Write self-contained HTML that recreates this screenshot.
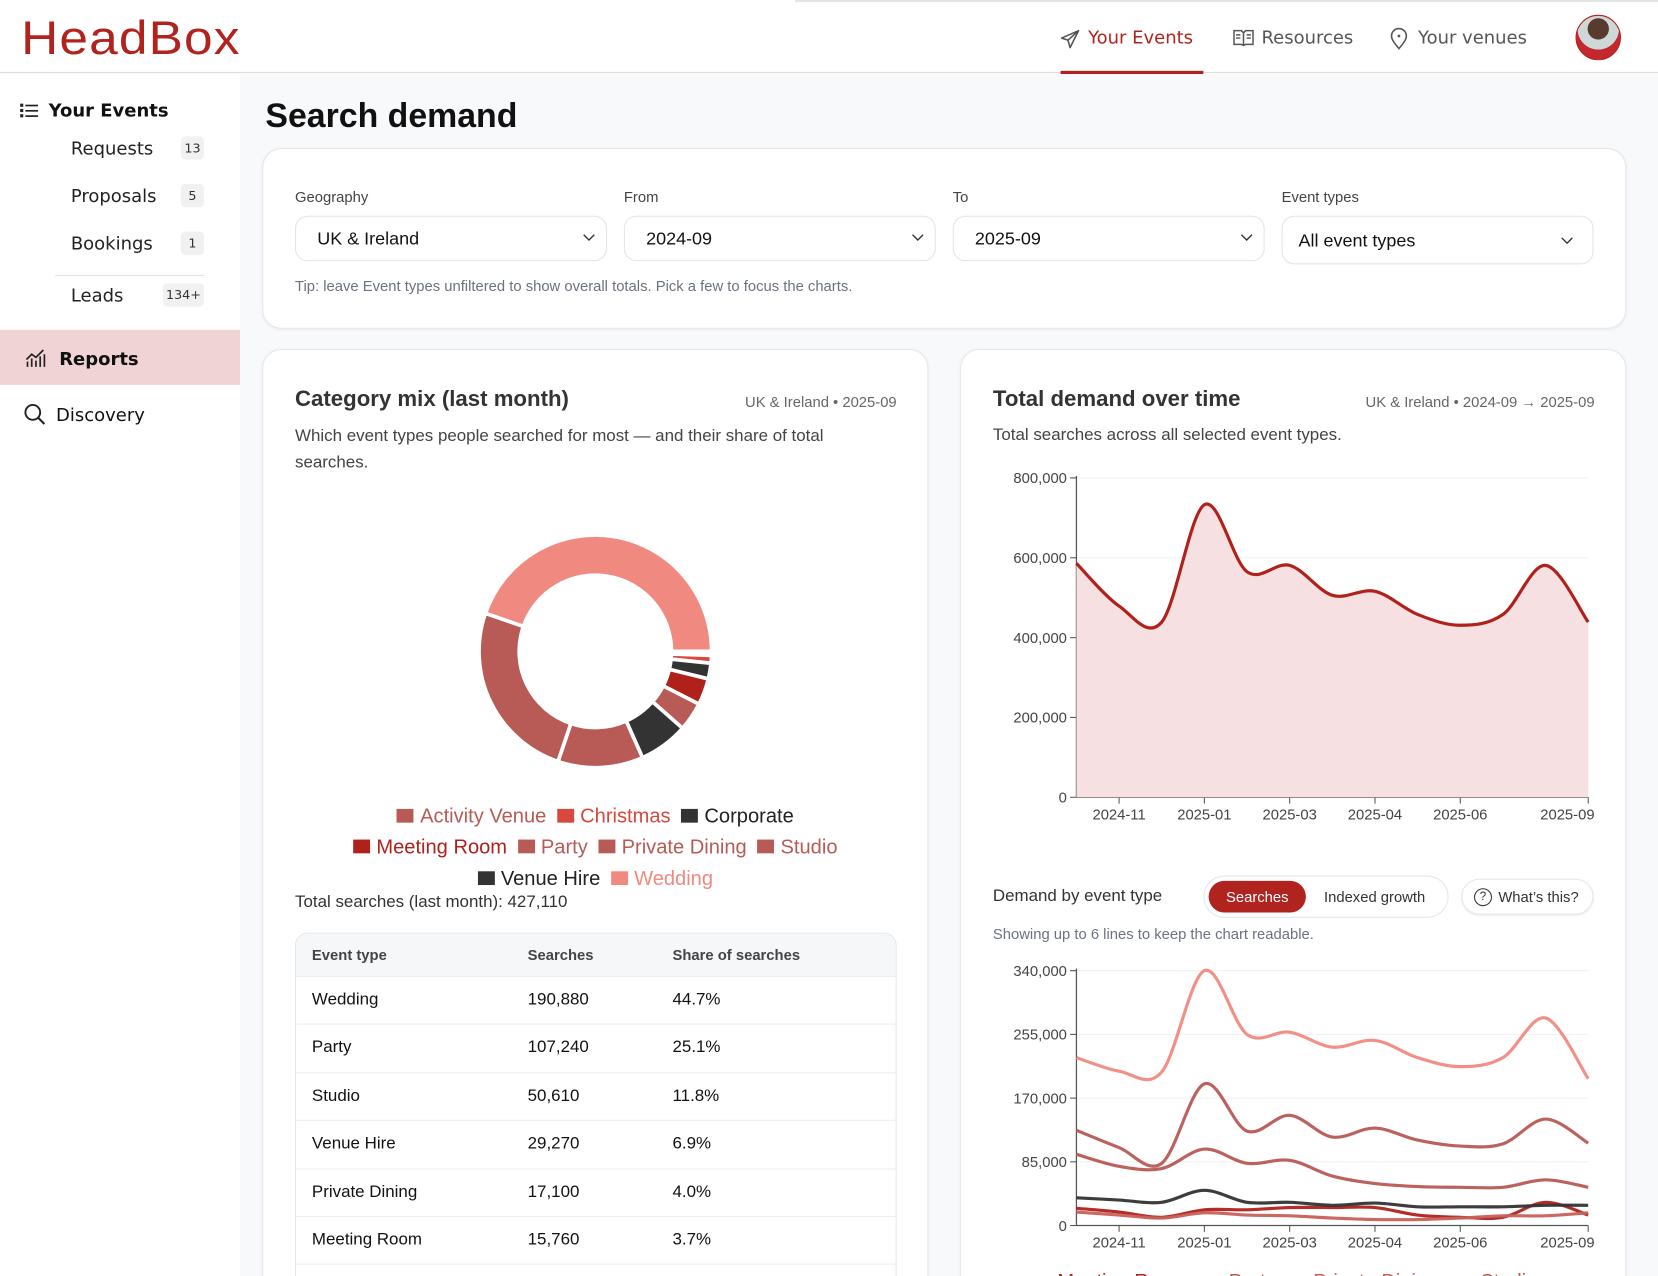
<!DOCTYPE html>
<html><head><meta charset="utf-8">
<style>
*{box-sizing:border-box;margin:0;padding:0}
html,body{width:1658px;height:1276px;overflow:hidden;background:#f8f9fb}
#stage{position:absolute;left:0;top:0;width:1568px;height:1207px;transform:scale(1.05740);transform-origin:0 0;font-family:"Liberation Sans",sans-serif;color:#222;background:#f8f9fb;overflow:hidden}
.abs{position:absolute}
.side{font-family:"DejaVu Sans","Liberation Sans",sans-serif}
.badge{position:absolute;height:22px;background:#f1f1f1;border-radius:4px;font-size:12px;color:#333;text-align:center;line-height:22px}
.card{position:absolute;background:#fff;border:1.5px solid #e6e7eb;border-radius:18px;box-shadow:0 1px 3px rgba(0,0,0,.06)}
.lbl{position:absolute;font-size:14px;color:#444}
.sel{position:absolute;height:43px;border:1px solid #e3e4e8;border-radius:12px;background:#fff;font-size:17px;color:#111;padding-left:20px;line-height:41px}
.sel svg{position:absolute;right:10px;top:16px}
.row{position:absolute;left:0;width:568px;height:45px;border-top:1px solid #eceef1;font-size:16px;color:#111}
.row span{position:absolute;top:13px}
</style></head><body>
<div id="stage">
<!-- header -->
<div class="abs" style="left:0;top:0;width:1568px;height:69px;background:#fff;border-bottom:1px solid #dcdcdc"></div>
<div class="abs" style="left:752px;top:0;width:816px;height:2px;background:#e4e4e4"></div>
<div class="abs" style="left:20px;top:10px;font-size:45px;color:#b0231e;font-family:'Liberation Sans',sans-serif;letter-spacing:1px;transform:scaleX(1.08);transform-origin:0 0">HeadBox</div>
<svg class="abs" style="left:1002px;top:27px" width="20" height="20" viewBox="0 0 20 20"><path d="M18 2 L2 9 L8 11 L10 18 Z M8 11 L18 2" fill="none" stroke="#555" stroke-width="1.5" stroke-linejoin="round"/></svg>
<div class="abs side" style="left:1029px;top:26px;font-size:17px;color:#b0231e">Your Events</div>
<div class="abs" style="left:1003px;top:67px;width:135px;height:3px;background:#b0231e"></div>
<svg class="abs" style="left:1166px;top:28px" width="20" height="16" viewBox="0 0 20 16"><path d="M1 1h7l2 2 2-2h7v13h-7l-2 1-2-1H1z M10 3v12 M3 5h4M3 8h4M13 5h4M13 8h4" fill="none" stroke="#555" stroke-width="1.4"/></svg>
<div class="abs side" style="left:1193px;top:26px;font-size:17px;color:#555">Resources</div>
<svg class="abs" style="left:1314px;top:26px" width="18" height="22" viewBox="0 0 18 22"><path d="M9 20 C4 14 2 11 2 8 A7 7 0 0 1 16 8 C16 11 14 14 9 20Z" fill="none" stroke="#555" stroke-width="1.5"/><circle cx="9" cy="8" r="1.3" fill="#555"/></svg>
<div class="abs side" style="left:1341px;top:26px;font-size:17px;color:#555">Your venues</div>
<div class="abs" style="left:1490px;top:14px;width:43px;height:43px;border-radius:50%;background:radial-gradient(circle at 50% 30%,#5a3a2e 0 28%,#cfd8d8 29% 55%,#c4282c 56%);border:1.5px solid #b0231e"></div>

<!-- sidebar -->
<div class="abs" style="left:0;top:70px;width:227px;height:1137px;background:#fff"></div>
<svg class="abs" style="left:19px;top:97px" width="18" height="15"><g fill="#222"><rect x="0" y="1" width="3" height="3"/><rect x="0" y="6" width="3" height="3"/><rect x="0" y="11" width="3" height="3"/><rect x="5" y="2" width="12" height="1.6"/><rect x="5" y="7" width="12" height="1.6"/><rect x="5" y="12" width="12" height="1.6"/></g></svg>
<div class="abs side" style="left:46px;top:95px;font-size:17px;font-weight:bold;color:#111">Your Events</div>
<div class="abs side" style="left:67px;top:131px;font-size:17px;color:#222">Requests</div>
<div class="badge side" style="left:171px;top:129px;width:22px">13</div>
<div class="abs side" style="left:67px;top:176px;font-size:17px;color:#222">Proposals</div>
<div class="badge side" style="left:171px;top:174px;width:22px">5</div>
<div class="abs side" style="left:67px;top:221px;font-size:17px;color:#222">Bookings</div>
<div class="badge side" style="left:171px;top:219px;width:22px">1</div>
<div class="abs" style="left:52px;top:260px;width:141px;height:1px;background:#e3e3e3"></div>
<div class="abs side" style="left:67px;top:270px;font-size:17px;color:#222">Leads</div>
<div class="badge side" style="left:154px;top:268px;width:39px">134+</div>
<div class="abs" style="left:0;top:312px;width:227px;height:52px;background:#efd3d5"></div>
<svg class="abs" style="left:24px;top:330px" width="20" height="18"><path d="M2 17V12M6 17V9M10 17V11M14 17V7M18 17V5M1 10 6 5 10 8 17 1" stroke="#222" stroke-width="1.6" fill="none"/></svg>
<div class="abs side" style="left:56px;top:330px;font-size:17px;font-weight:bold;color:#111">Reports</div>
<svg class="abs" style="left:22px;top:381px" width="22" height="22"><circle cx="9" cy="9" r="7" fill="none" stroke="#222" stroke-width="1.8"/><path d="M14 14 L20 20" stroke="#222" stroke-width="2"/></svg>
<div class="abs side" style="left:53px;top:383px;font-size:17px;color:#111">Discovery</div>

<!-- title -->
<div class="abs" style="left:251px;top:91px;font-size:32px;font-weight:bold;color:#111;font-family:'Liberation Sans',sans-serif">Search demand</div>

<!-- filters -->
<div class="card" style="left:248px;top:140px;width:1290px;height:171px"></div>
<div class="lbl" style="left:279px;top:178px">Geography</div>
<div class="lbl" style="left:590px;top:178px">From</div>
<div class="lbl" style="left:901px;top:178px">To</div>
<div class="lbl" style="left:1212px;top:178px">Event types</div>
<div class="sel" style="left:279px;top:204px;width:295px">UK &amp; Ireland<svg width="12" height="8"><path d="M1 1l5 5 5-5" fill="none" stroke="#333" stroke-width="1.3"/></svg></div>
<div class="sel" style="left:590px;top:204px;width:295px">2024-09<svg width="12" height="8"><path d="M1 1l5 5 5-5" fill="none" stroke="#333" stroke-width="1.3"/></svg></div>
<div class="sel" style="left:901px;top:204px;width:295px">2025-09<svg width="12" height="8"><path d="M1 1l5 5 5-5" fill="none" stroke="#333" stroke-width="1.3"/></svg></div>
<div class="sel" style="left:1212px;top:204px;width:295px;height:46px;padding-left:15px;line-height:45px">All event types<svg width="12" height="8" style="right:18px;top:19px"><path d="M1 1l5 5 5-5" fill="none" stroke="#333" stroke-width="1.3"/></svg></div>
<div class="abs" style="left:279px;top:262px;font-size:14px;color:#6b7280">Tip: leave Event types unfiltered to show overall totals. Pick a few to focus the charts.</div>

<!-- left card -->
<div class="card" style="left:248px;top:330px;width:630px;height:920px"></div>
<div class="abs" style="left:279px;top:366px;font-size:21px;font-weight:bold;color:#333">Category mix (last month)</div>
<div class="abs" style="left:600px;width:248px;text-align:right;top:372px;font-size:14px;color:#666">UK &amp; Ireland • 2025-09</div>
<div class="abs" style="left:279px;top:401px;width:560px;font-size:16px;line-height:24.5px;color:#444">Which event types people searched for most — and their share of total searches.</div>
<svg id="donut" class="abs" style="left:440px;top:490px" width="250" height="250"></svg>
<div class="abs" style="left:280px;top:758px;width:566px;text-align:center;font-size:19px;line-height:29.4px" id="legend"></div>
<div class="abs" style="left:279px;top:845px;font-size:16px;color:#333">Total searches (last month): 427,110</div>
<div class="abs" style="left:279px;top:882px;width:569px;height:340px;border:1px solid #e5e6ea;border-radius:12px;overflow:hidden;background:#fff" id="table">
 <div class="abs" style="left:0;top:0;width:569px;height:40px;background:#f6f7f9;font-size:14px;font-weight:bold;color:#444">
  <span class="abs" style="left:15px;top:12px">Event type</span><span class="abs" style="left:219px;top:12px">Searches</span><span class="abs" style="left:356px;top:12px">Share of searches</span></div>
</div>

<!-- right card -->
<div class="card" style="left:908px;top:330px;width:630px;height:920px"></div>
<div class="abs" style="left:939px;top:366px;font-size:21px;font-weight:bold;color:#333">Total demand over time</div>
<div class="abs" style="left:1200px;width:308px;text-align:right;top:372px;font-size:14px;color:#666">UK &amp; Ireland • 2024-09 → 2025-09</div>
<div class="abs" style="left:939px;top:403px;font-size:16px;color:#444">Total searches across all selected event types.</div>
<svg id="chart1" class="abs" style="left:908px;top:430px" width="630" height="360"></svg>
<div class="abs" style="left:939px;top:839px;font-size:16px;color:#333">Demand by event type</div>
<div class="abs" style="left:1138px;top:828px;width:232px;height:40px;border:1px solid #e5e6ea;border-radius:20px;background:#fff"></div>
<div class="abs" style="left:1143px;top:833px;width:92px;height:30px;border-radius:15px;background:#b0231e;color:#fff;font-size:14px;text-align:center;line-height:30px">Searches</div>
<div class="abs" style="left:1240px;top:833px;width:120px;height:30px;color:#333;font-size:14px;text-align:center;line-height:30px">Indexed growth</div>
<div class="abs" style="left:1382px;top:831px;width:125px;height:34px;border:1px solid #e5e6ea;border-radius:17px;background:#fff;box-shadow:0 1px 2px rgba(0,0,0,.08);font-size:14px;color:#333;line-height:32px;padding-left:34px">What’s this?
 <span class="abs" style="left:11px;top:8px;width:17px;height:17px;border:1.4px solid #333;border-radius:50%;font-size:11px;line-height:15px;text-align:center;padding:0">?</span></div>
<div class="abs" style="left:939px;top:875px;font-size:14px;color:#6b7280">Showing up to 6 lines to keep the chart readable.</div>
<svg id="chart2" class="abs" style="left:908px;top:900px" width="630" height="340"></svg>
</div>

<script>
const NS='http://www.w3.org/2000/svg';
function mk(parent,tag,attrs){const e=document.createElementNS(NS,tag);for(const k in attrs)e.setAttribute(k,attrs[k]);parent.appendChild(e);return e;}

// ---------- donut data ----------
const donutCats=['Activity Venue','Christmas','Corporate','Meeting Room','Private Dining','Venue Hire','Studio','Party','Wedding'];
const donutVals=[2350,4600,9300,15760,17100,29270,50610,107240,190880];
const donutColors=['#b85a55','#d9473d','#333333','#b0211c','#b85a55','#333333','#b85a55','#b85a55','#f08a80'];
const legendOrder=['Activity Venue','Christmas','Corporate','Meeting Room','Party','Private Dining','Studio','Venue Hire','Wedding'];
const legendColors=['#b85a55','#d9473d','#333333','#b0211c','#b85a55','#b85a55','#b85a55','#333333','#f08a80'];
// ---------- table data ----------
const tableTypes=['Wedding','Party','Studio','Venue Hire','Private Dining','Meeting Room','Corporate'];
const tableSearches=[190880,107240,50610,29270,17100,15760,9300];
const tableShares=['44.7%','25.1%','11.8%','6.9%','4.0%','3.7%','2.2%'];
// ---------- time series ----------
const months=['2024-09','2024-11','2024-12','2025-01','2025-02','2025-03','2025-03b','2025-04','2025-05','2025-06','2025-07','2025-08','2025-09'];
const tickIdx=[1,3,5,7,9,12];
const tickLabels=['2024-11','2025-01','2025-03','2025-04','2025-06','2025-09'];
const totalVals=[586000,479000,439000,733000,565000,581000,506000,516000,458000,431000,458000,581000,439000];
const y1Ticks=[0,200000,400000,600000,800000];
const y2Ticks=[0,85000,170000,255000,340000];
const seriesNames=['Meeting Room','Party','Private Dining','Studio','Wedding','Venue Hire'];
const seriesColors=['#b0211c','#b85a55','#c9605a','#b85a55','#f08a80','#333333'];
const sMeeting=[23000,18000,11000,21000,21000,24000,24000,24000,14000,11000,11000,31000,14000];
const sParty=[127000,104000,83000,189000,126000,147000,118000,130000,114000,106000,109000,142000,110000];
const sPrivate=[18000,14000,10000,17000,14000,13000,10000,8000,8000,10000,13000,13000,17000];
const sStudio=[95000,79000,76000,102000,83000,87000,66000,56000,52000,51000,51000,61000,51000];
const sWedding=[224000,206000,205000,340000,255000,258000,238000,247000,224000,212000,224000,277000,196000];
const sVenue=[37000,34000,31000,47000,31000,31000,27000,30000,25000,25000,25000,27000,27000];
const seriesVals=[sMeeting,sParty,sPrivate,sStudio,sWedding,sVenue];

function fmt(n){return n.toLocaleString('en-US');}

// donut
(function(){
 const svg=document.getElementById('donut');const cx=123,cy=126,R=110,r=72;
 const total=donutVals.reduce((a,b)=>a+b,0);let a=Math.PI/2;
 donutVals.forEach((v,i)=>{
  const a2=a+v/total*Math.PI*2;
  const p=(ang,rad)=>[cx+rad*Math.sin(ang),cy-rad*Math.cos(ang)];
  const [x1,y1]=p(a,R),[x2,y2]=p(a2,R),[x3,y3]=p(a2,r),[x4,y4]=p(a,r);const lg=(a2-a)>Math.PI?1:0;
  const path=mk(svg,'path',{d:`M${x1},${y1}A${R},${R} 0 ${lg} 1 ${x2},${y2}L${x3},${y3}A${r},${r} 0 ${lg} 0 ${x4},${y4}Z`,fill:donutColors[i],stroke:'#fff','stroke-width':3.5});
  
  
  a=a2;});
 const lg=document.getElementById('legend');
 legendOrder.forEach((n,i)=>{
  const s=document.createElement('span');
  
  
  s.style.cssText='margin:0 5px;color:'+(legendColors[i]==='#333333'?'#222':legendColors[i])+';white-space:nowrap';
  s.innerHTML='<span style="display:inline-block;width:16px;height:13px;background:'+legendColors[i]+';margin-right:6px"></span>'+n;
  lg.appendChild(s);
  if(i===2||i===6)lg.appendChild(document.createElement('br'));
 });
 const t=document.getElementById('table');
 tableTypes.forEach((n,i)=>{
  const d=document.createElement('div');d.className='row';d.style.top=(40+i*45.4)+'px';
  
  
  d.innerHTML='<span style="left:15px">'+n+'</span><span style="left:219px">'+fmt(tableSearches[i])+'</span><span style="left:356px">'+tableShares[i]+'</span>';
  t.appendChild(d);});
})();

function smooth(pts){let d='M'+pts[0][0]+','+pts[0][1];
 for(let i=0;i<pts.length-1;i++){const p0=pts[Math.max(0,i-1)],p1=pts[i],p2=pts[i+1],p3=pts[Math.min(pts.length-1,i+2)];
  const c1=[p1[0]+(p2[0]-p0[0])/6,p1[1]+(p2[1]-p0[1])/6],c2=[p2[0]-(p3[0]-p1[0])/6,p2[1]-(p3[1]-p1[1])/6];
  d+=`C${c1[0]},${c1[1]} ${c2[0]},${c2[1]} ${p2[0]},${p2[1]}`;}return d;}

function axes(svg,x0,x1,yb,yt,maxV,yticks,labY){
 const xS=i=>x0+i*(x1-x0)/(months.length-1);
 const yS=v=>yb-v/maxV*(yb-yt);
 yticks.forEach(v=>{const y=yS(v);
  const g=mk(svg,'line',{x1:x0,x2:x1,y1:y,y2:y,stroke:'#f1f1f1'});
  
  mk(svg,'line',{x1:x0-6,x2:x0,y1:y,y2:y,stroke:'#555'});
  const t=mk(svg,'text',{x:x0-9,y:y+5,'text-anchor':'end','font-size':14,fill:'#444','font-family':'Liberation Sans'});t.textContent=fmt(v);
  });
 mk(svg,'line',{x1:x0,x2:x0,y1:yt-2,y2:yb,stroke:'#555','stroke-width':1.2});
 mk(svg,'line',{x1:x0,x2:x1,y1:yb,y2:yb,stroke:'#555','stroke-width':1.2});
 tickIdx.forEach((ix,k)=>{const x=xS(ix);mk(svg,'line',{x1:x,x2:x,y1:yb,y2:yb+6,stroke:'#555'});
  const t=mk(svg,'text',{x:ix===months.length-1?x+6:x,y:labY,'text-anchor':ix===months.length-1?'end':'middle','font-size':14,fill:'#444','font-family':'Liberation Sans'});t.textContent=tickLabels[k];
  });
 return [xS,yS];}

// chart1
(function(){const svg=document.getElementById('chart1');
 const [xS,yS]=axes(svg,110,594,324,22,800000,y1Ticks,345);
 const pts=totalVals.map((v,i)=>[xS(i),yS(v)]);const d=smooth(pts);
 const area=mk(svg,'path',{d:d+`L${xS(months.length-1)},${yS(0)}L${xS(0)},${yS(0)}Z`,fill:'#f6e0e1'});
 
 const ln=mk(svg,'path',{d:d,fill:'none',stroke:'#b0211c','stroke-width':3});
 
})();
// chart2
(function(){const svg=document.getElementById('chart2');
 const [xS,yS]=axes(svg,110,594,259,18,340000,y2Ticks,280);
 seriesVals.forEach((vals,s)=>{
  const ln=mk(svg,'path',{d:smooth(vals.map((v,i)=>[xS(i),yS(v)])),fill:'none',stroke:seriesColors[s],'stroke-width':3,opacity:0.95});
  
  });
 const legX=[92,254,334,492];
 ['Meeting Room','Party','Private Dining','Studio'].forEach((n,i)=>{
  const t=mk(svg,'text',{x:legX[i],y:318,'font-size':19,fill:['#b0211c','#b85a55','#c9605a','#b85a55'][i],'font-family':'Liberation Sans'});t.textContent=n;
  });
})();
</script>
</body></html>
